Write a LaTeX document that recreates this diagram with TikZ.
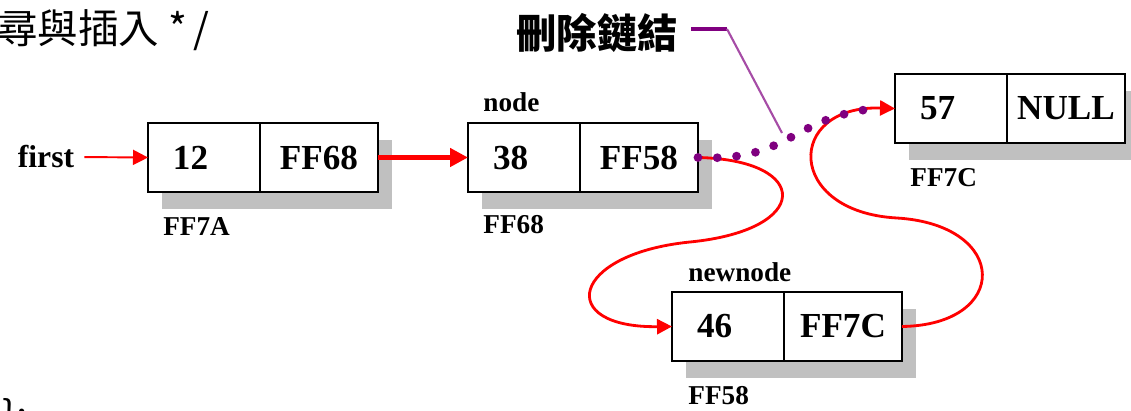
\documentclass[tikz,border=0pt]{standalone}
\usepackage{fontspec}
\setmainfont{Liberation Serif}
\newfontfamily\cjk{Noto Sans CJK TC}
\usetikzlibrary{positioning,arrows.meta,shadows}
\definecolor{linkpurple}{RGB}{128,0,128}
\definecolor{shadowgray}{RGB}{192,192,192}

\begin{document}
\begin{tikzpicture}[x=0.02cm, y=-0.02cm,
    cell/.style = {draw, line width=1.5pt, fill=white, outer sep=0pt, minimum height=1.38cm,
                   font=\bfseries\fontsize{20}{20}\selectfont,
                   drop shadow={opacity=1, fill=shadowgray, shadow xshift=0.28cm, shadow yshift=-0.34cm}},
    data/.style = {cell, anchor=north west, inner xsep=0.5cm, inner ysep=0pt, text width=1.24cm, align=left},
    link/.style = {cell, inner sep=0pt, minimum width=2.36cm},
    addr/.style = {font=\bfseries\fontsize{15.5}{15.5}\selectfont, anchor=west, inner sep=0pt},
    redarrow/.style = {red, line width=1.6pt, -{Triangle[length=0.3cm, width=0.3cm]}},
    dots/.style = {linkpurple, line width=5pt, line cap=round, dash pattern=on 0pt off 11pt}]
\fill[white] (0,0) rectangle (1131,411);
\useasboundingbox (0,0) rectangle (1131,411);

% source lines around the figure
\node[font=\cjk\fontsize{23}{23}\selectfont, anchor=west, inner sep=0pt] (head) at (-3,30) {尋與插入 *\,/};
\node[font=\cjk\fontsize{23}{23}\selectfont, anchor=north west, inner sep=0pt] (tail) at (2,398) {\};};

% list nodes
\node[data] (v12) at (148,123) {12};
\node[link] (p12) [right=0pt of v12] {FF68};
\node[data] (v38) at (468,123) {38};
\node[link] (p38) [right=0pt of v38] {FF58};
\node[data] (v57) at (895,74) {57};
\node[link] (p57) [right=0pt of v57] {NULL};
\node[data] (v46) at (672,292) {46};
\node[link] (p46) [right=0pt of v46] {FF7C};

% addresses and names
\node[addr] (a12) at ([shift={(15,35)}]v12.south west) {FF7A};
\node[addr] (a38) at ([shift={(15,33)}]v38.south west) {FF68};
\node[addr] (a57) at ([shift={(15,35)}]v57.south west) {FF7C};
\node[addr] (a46) at ([shift={(16,35)}]v46.south west) {FF58};
\node[addr] (n38) at ([shift={(15,-21)}]v38.north west) {node};
\node[addr] (n46) at ([shift={(16,-20)}]v46.north west) {newnode};
\node[font=\bfseries\fontsize{18}{18}\selectfont, inner sep=0pt] (first) at (46,157) {first};

% pointers
\draw[redarrow, line width=1.1pt, shorten <=0.2cm] (first.east) -- (v12.west);
\draw[redarrow, line width=2.6pt, -{Triangle[length=0.36cm, width=0.36cm]}] (p12.east) -- (v38.west);
\draw[redarrow] (p38.east) .. controls (812,160) and (812,230) .. (690,242)
                           .. controls (570,254) and (555,328) .. (v46.west);
\draw[redarrow] (p46.east) .. controls (1010,325) and (1010,225) .. (897,218)
                           .. controls (785,212) and (785,105) .. (v57.west);
\draw[dots] (p38.east) .. controls (790,162) and (790,118) .. ([xshift=-0.4cm]v57.west);

% callout for the removed link
\node[font=\cjk\bfseries\fontsize{23}{23}\selectfont, inner sep=0pt] (del) at (597,33) {刪除鏈結};
\coordinate (bend) at (727,29);
\coordinate (cut) at (782,133);
\draw[linkpurple, line width=2.2pt, shorten <=0.26cm] (del.east |- bend) -- (bend);
\draw[linkpurple!70, line width=1.2pt] (bend) -- (cut);
\end{tikzpicture}
\end{document}
